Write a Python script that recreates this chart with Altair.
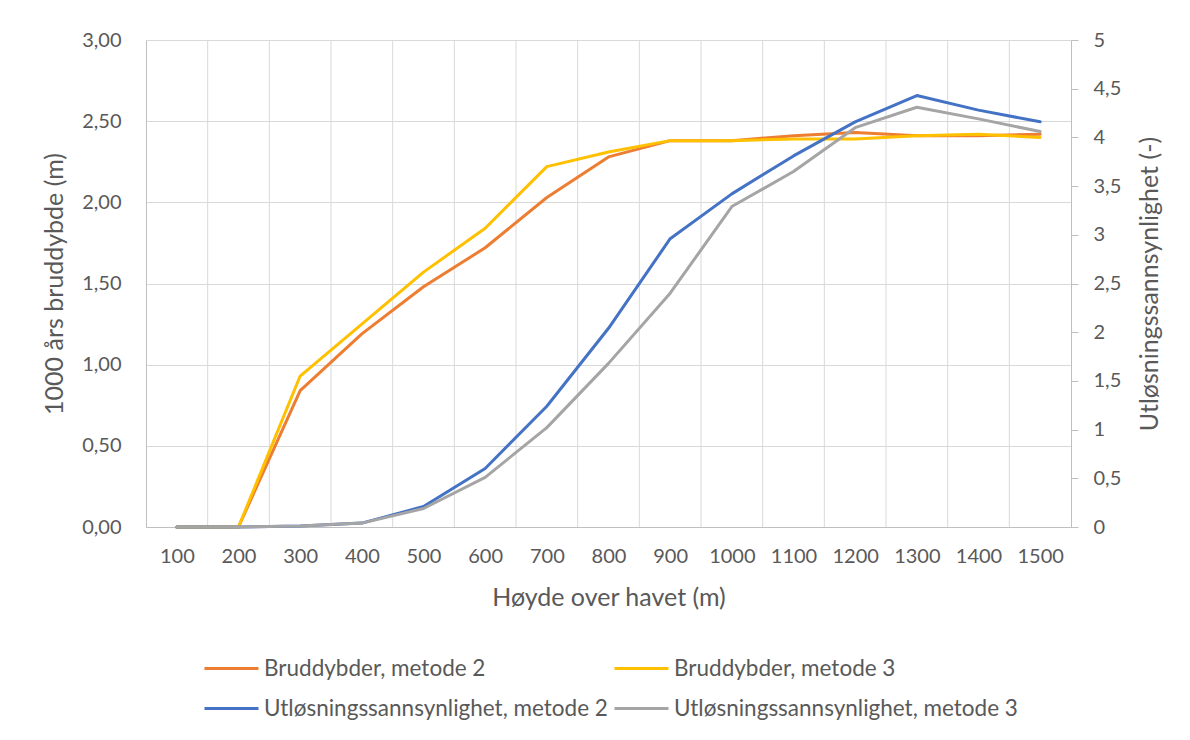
import altair as alt
import pandas as pd

heights = [100, 200, 300, 400, 500, 600, 700, 800, 900, 1000, 1100, 1200, 1300, 1400, 1500]
boundaries = [150, 250, 350, 450, 550, 650, 750, 850, 950, 1050, 1150, 1250, 1350, 1450]

brudd_m2 = [0, 0, 0.84, 1.19, 1.48, 1.72, 2.03, 2.28, 2.38, 2.38, 2.41, 2.43, 2.41, 2.41, 2.42]
brudd_m3 = [0, 0, 0.93, 1.25, 1.57, 1.84, 2.22, 2.31, 2.38, 2.38, 2.39, 2.39, 2.41, 2.42, 2.40]
utl_m2 = [0, 0, 0.01, 0.04, 0.21, 0.60, 1.24, 2.04, 2.96, 3.42, 3.81, 4.16, 4.43, 4.28, 4.16]
utl_m3 = [0, 0, 0.01, 0.04, 0.19, 0.51, 1.02, 1.68, 2.40, 3.29, 3.65, 4.10, 4.31, 4.19, 4.06]

series_names = [
    "Bruddybder, metode 2",
    "Bruddybder, metode 3",
    "Utløsningssannsynlighet, metode 2",
    "Utløsningssannsynlighet, metode 3",
]
series_colors = ["#ED7D31", "#FFC000", "#4472C4", "#A5A5A5"]

FONT = "Lato"
TXT = "#595959"
LBL = 20
TTL = 25
LEG = 22.5

left_df = pd.DataFrame(
    [{"h": h, "v": v, "series": series_names[0]} for h, v in zip(heights, brudd_m2)]
    + [{"h": h, "v": v, "series": series_names[1]} for h, v in zip(heights, brudd_m3)]
)
right_df = pd.DataFrame(
    [{"h": h, "v": v, "series": series_names[2]} for h, v in zip(heights, utl_m2)]
    + [{"h": h, "v": v, "series": series_names[3]} for h, v in zip(heights, utl_m3)]
)
grid_df = pd.DataFrame({"b": boundaries})

xscale = alt.Scale(domain=[50, 1550], nice=False, zero=False)
color_scale = alt.Scale(domain=series_names, range=series_colors)

legend = alt.Legend(
    title=None,
    orient="none",
    direction="horizontal",
    legendX=57,
    legendY=600,
    padding=0,
    columns=2,
    symbolType="stroke",
    symbolStrokeWidth=3,
    symbolSize=2916,
    labelFont=FONT,
    labelFontSize=LEG,
    labelColor=TXT,
    labelOffset=4,
    labelLimit=500,
    rowPadding=-8,
    columnPadding=0,
)

x_axis = alt.Axis(
    values=heights,
    title="Høyde over havet (m)",
    grid=False,
    ticks=False,
    domainColor="#BFBFBF",
    labelFont=FONT,
    labelFontSize=LBL,
    labelColor=TXT,
    labelPadding=19,
    titleFont=FONT,
    titleFontSize=TTL,
    titleFontWeight="normal",
    titleColor=TXT,
    titlePadding=19,
    format="d",
)

vgrid = alt.Chart(grid_df).mark_rule(color="#D9D9D9", strokeWidth=1).encode(
    x=alt.X("b:Q", scale=xscale, axis=x_axis)
)

left = alt.Chart(left_df).mark_line(strokeWidth=3, strokeJoin="round", strokeCap="round").encode(
    x=alt.X("h:Q", scale=xscale, axis=x_axis),
    y=alt.Y(
        "v:Q",
        scale=alt.Scale(domain=[0, 3], nice=False),
        axis=alt.Axis(
            orient="left",
            values=[0, 0.5, 1, 1.5, 2, 2.5, 3],
            labelExpr="replace(format(datum.value, '.2f'), '.', ',')",
            title="1000 års bruddybde (m)",
            grid=True,
            gridColor="#D9D9D9",
            ticks=False,
            domainColor="#BFBFBF",
            labelFont=FONT,
            labelFontSize=LBL,
            labelColor=TXT,
            labelPadding=25,
            titleFont=FONT,
            titleFontSize=TTL,
            titleFontWeight="normal",
            titleColor=TXT,
            titlePadding=14,
        ),
    ),
    color=alt.Color("series:N", scale=color_scale, legend=legend, sort=series_names),
    order=alt.Order("h:Q"),
)

right = alt.Chart(right_df).mark_line(strokeWidth=3, strokeJoin="round", strokeCap="round").encode(
    x=alt.X("h:Q", scale=xscale, axis=x_axis),
    y=alt.Y(
        "v:Q",
        scale=alt.Scale(domain=[0, 5], nice=False),
        axis=alt.Axis(
            orient="right",
            values=[0, 0.5, 1, 1.5, 2, 2.5, 3, 3.5, 4, 4.5, 5],
            labelExpr="replace(format(datum.value, '~g'), '.', ',')",
            title="Utløsningssannsynlighet (-)",
            titleAngle=270,
            titleBaseline="top",
            grid=False,
            ticks=True,
            tickSize=7,
            tickColor="#BFBFBF",
            domainColor="#BFBFBF",
            labelFont=FONT,
            labelFontSize=LBL,
            labelColor=TXT,
            labelPadding=15,
            titleFont=FONT,
            titleFontSize=TTL,
            titleFontWeight="normal",
            titleColor=TXT,
            titlePadding=17,
        ),
    ),
    color=alt.Color("series:N", scale=color_scale, legend=legend, sort=series_names),
    order=alt.Order("h:Q"),
)

chart = (
    alt.layer(vgrid, left, right)
    .resolve_scale(y="independent")
    .properties(
        width=925,
        height=487,
        autosize=alt.AutoSizeParams(type="none"),
        padding={"left": 138, "top": 32, "right": 111, "bottom": 205},
        background="white",
    )
    .configure_view(stroke=None)
)

chart.save("out.html", embed_options={"renderer": "svg", "actions": False})
